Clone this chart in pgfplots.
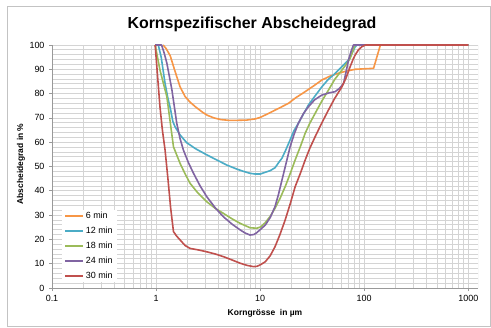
\documentclass[border=0pt]{standalone}
\usepackage{fontspec}
\setmainfont{Liberation Sans}
\usepackage{pgfplots}
\pgfplotsset{compat=1.18}
\definecolor{cOr}{HTML}{F79646}
\definecolor{cTe}{HTML}{4BACC6}
\definecolor{cGr}{HTML}{9BBB59}
\definecolor{cPu}{HTML}{8064A2}
\definecolor{cRe}{HTML}{C0504D}
\definecolor{gridc}{HTML}{D4D4D4}
\begin{document}
\begin{tikzpicture}[x=1bp,y=1bp]
\useasboundingbox (0,0) rectangle (491,327);
\fill[white] (0,0) rectangle (491,327);
\draw[gridc!80!gray, line width=0.8bp] (7,1) rectangle (490,321);
\node[font=\fontsize{16}{18}\selectfont\bfseries] at (252,303) {Kornspezifischer Abscheidegrad};
\node[font=\fontsize{8.5}{10}\selectfont\bfseries, rotate=90] at (21,163) {Abscheidegrad in \%};
\node[font=\fontsize{8.5}{10}\selectfont\bfseries] at (265,14) {Korngrösse\ \ in µm};
\begin{axis}[
  at={(52bp,39bp)}, anchor=south west,
  scale only axis, width=426bp, height=243bp,
  xmode=log, xmin=0.1, xmax=1240,
  ymin=0, ymax=100,
  xtick={0.1,1,10,100,1000},
  xticklabels={0.1,1,10,100,1000},
  ytick={0,10,...,100},
  minor ytick={2,4,...,98},
  grid=both,
  major grid style={gridc, line width=0.8bp},
  minor grid style={gridc, line width=0.8bp},
  axis x line*=bottom, axis y line*=left,
  axis line style={gray!80, line width=0.8bp},
  tick style={gray!80, line width=0.8bp},
  tick align=outside, major tick length=3bp, minor tick length=0pt,
  ticklabel style={font=\fontsize{9}{10}\selectfont},
  /pgf/number format/assume math mode=true,
  yticklabel style={xshift=-1bp},
  xticklabel style={yshift=-1bp},
  legend style={at={(axis description cs:0.0235,0.025)}, anchor=south west,
    draw=none, fill=white, font=\fontsize{9}{10}\selectfont,
    row sep=3bp, inner xsep=2bp, inner ysep=0bp},
  legend cell align=left,
  legend image code/.code={\draw[#1] (0bp,0bp) -- (18bp,0bp);},
  every axis plot/.append style={line width=1.6bp, line join=round},
]
\addplot[cOr] coordinates {(1.17,100) (1.25,98.5) (1.37,95.5) (1.5,90) (1.7,82.8) (1.9,78.8) (2.12,76.5) (2.4,74.5) (2.8,72.3) (3.1,71.1) (3.6,70) (4.2,69.3) (5,69) (6,69) (7.4,69.1) (9,69.6) (10,70.2) (12,71.8) (13.9,73.2) (16,74.5) (18.7,76) (22,78.3) (27.1,80.8) (33,83.3) (39.2,85.6) (47,87.2) (56.6,88.4) (68,89.3) (82,90) (100,90.2) (123,90.4) (143,100) (1000,100)};
\addlegendentry{6 min}
\addplot[cTe] coordinates {(1.05,100) (1.12,95) (1.22,84.2) (1.3,78) (1.37,74) (1.45,68.5) (1.52,66.4) (1.7,63) (1.97,59.8) (2.4,57.3) (3.07,54.8) (3.83,52.7) (4.78,50.6) (6,48.9) (6.92,48) (8,47.2) (9,46.9) (10,46.9) (11,47.5) (12.5,48.3) (13.9,49.5) (15,51.5) (16.2,53.4) (17.5,56.5) (19.4,60.9) (21,64.5) (23.3,67.8) (26,71.5) (29.1,75.3) (33,78.5) (39.2,82.8) (45,85.8) (52.6,88.3) (60,90.8) (70.6,93.8) (76,96.5) (82,99.3) (85,100) (1000,100)};
\addlegendentry{12 min}
\addplot[cGr] coordinates {(0.98,100) (1.09,89.7) (1.18,84) (1.27,78.7) (1.37,68) (1.47,58.1) (1.7,51.3) (1.9,47) (2.12,43.1) (2.5,39.3) (3.07,35.5) (3.7,32.8) (4.44,30.7) (5.4,28.4) (6.43,26.6) (8.0,24.8) (9.3,24.6) (10.2,25.2) (11.2,26.9) (12.5,29.5) (13.9,32.8) (15.5,36.8) (17.4,41.7) (19.5,47.2) (21.7,52.7) (24.5,58.5) (27.1,63.7) (30,67.8) (33.8,71.9) (39,76.8) (45.4,81.5) (52,85.8) (61.1,89.7) (67,92) (73.3,94.5) (77,97) (80,99.3) (82,100) (1000,100)};
\addlegendentry{18 min}
\addplot[cPu] coordinates {(0.98,100) (1.13,100) (1.2,96.5) (1.27,92.5) (1.35,86.5) (1.42,81.5) (1.5,74.5) (1.58,67.8) (1.7,61.5) (1.83,56.8) (2.05,51.5) (2.29,47.2) (2.65,42) (3.07,37.6) (3.7,33) (4.44,29.3) (5.4,26.2) (6.43,23.9) (7.2,22.6) (8.0,21.8) (8.7,22) (9.3,22.8) (10,24) (11.2,25.9) (12.5,29) (13.9,33.5) (15,38.5) (16.2,44.4) (17.8,51.5) (19.4,58.1) (21.3,63.5) (23.3,67.8) (26,71.7) (29.1,74.6) (33.5,77.5) (39.2,79.4) (46,80.3) (52.6,80.8) (58,82.2) (63.3,84.2) (67,89) (70.6,93.8) (75,97.5) (78.8,100) (1000,100)};
\addlegendentry{24 min}
\addplot[cRe] coordinates {(0.98,100) (1.03,88) (1.09,74.6) (1.15,65) (1.22,56.8) (1.3,45) (1.38,33) (1.47,23.2) (1.58,21.3) (1.7,19.8) (1.9,17.5) (2.12,16.3) (2.6,15.6) (3.07,14.9) (3.7,14) (4.44,12.9) (5.4,11.5) (6.43,10.2) (7.5,9.3) (8.63,8.8) (9.3,8.9) (10,9.5) (11.2,10.8) (12.5,13.3) (13.9,17) (15.5,22) (17.4,28) (19.5,34.8) (21.7,41.7) (24.5,47.5) (27.1,52.7) (30,57.5) (33.8,62.3) (39,67.8) (45.4,73.3) (52,78) (61.1,82.8) (67,86.5) (73.3,91.1) (78,94) (81.9,95.9) (88,98) (95,99.3) (103,100) (1000,100)};
\addlegendentry{30 min}
\draw[gridc, line width=0.8bp] (rel axis cs:1,0) -- (rel axis cs:1,1);
\end{axis}
\end{tikzpicture}
\end{document}
